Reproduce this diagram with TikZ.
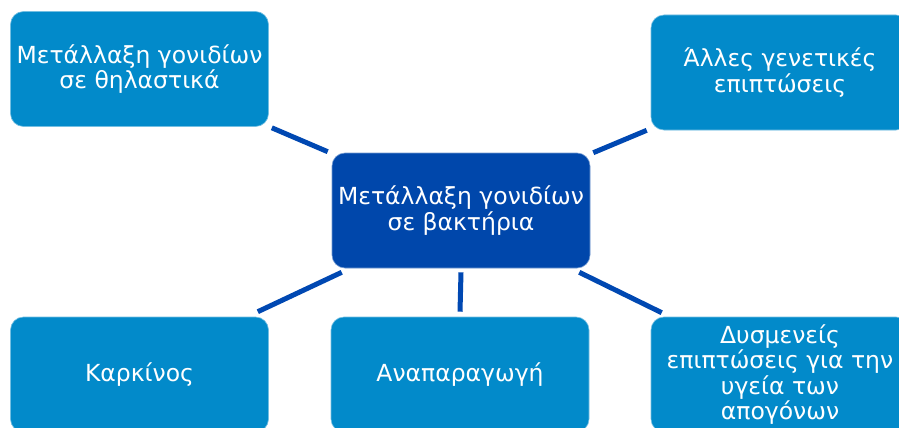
\documentclass[tikz,border=0pt]{standalone}
\usepackage{fontspec}
\setmainfont{DejaVu Sans}
\usetikzlibrary{calc}
\definecolor{outerblue}{RGB}{2,138,202}
\definecolor{centerblue}{RGB}{0,71,171}
\definecolor{linkblue}{RGB}{0,72,178}
\tikzset{
  box/.style={rectangle, rounded corners=13pt, fill=outerblue, draw=white!45!outerblue, line width=0.6pt,
    minimum width=258pt, minimum height=115pt, inner sep=0pt, align=center, text=white,
    font=\fontsize{23.5}{25.5}\selectfont},
  mainbox/.style={box, fill=centerblue, draw=white!45!centerblue},
  link/.style={draw=linkblue, line width=5pt, line cap=butt}
}
\begin{document}
\begin{tikzpicture}[x=1pt,y=-1pt]
\useasboundingbox (0,0) rectangle (899,428);
\clip (0,0) rectangle (899,428);
\fill[white] (0,0) rectangle (899,428);
\node[box] (tl) at (139.5,69) {Μετάλλαξη γονιδίων\\σε θηλαστικά};
\node[box] (tr) at (780,72.5) {Άλλες γενετικές\\επιπτώσεις};
\node[mainbox] (c) at (461,210.5) {Μετάλλαξη γονιδίων\\σε βακτήρια};
\node[box] (bl) at (139.5,374.5) {Καρκίνος};
\node[box] (bc) at (460,374.5) {Αναπαραγωγή};
\node[box] (br) at (780,374.5) {Δυσμενείς\\επιπτώσεις για την\\υγεία των\\απογόνων};
\draw[link] ($(tl.south east)+(3,1)$) -- ($(c.north west)+(-4,-1)$);
\draw[link] ($(c.north east)+(3,0)$) -- ($(tr.south west)+(-4,0)$);
\draw[link] ($(bl.north east)+(-11,-5)$) -- ($(c.south west)+(10,4)$);
\draw[link] ($(c.south)+(0,4)$) -- ($(bc.north)+(0,-5)$);
\draw[link] ($(c.south east)+(-11,4)$) -- ($(br.north west)+(11,-4)$);
\end{tikzpicture}
\end{document}
